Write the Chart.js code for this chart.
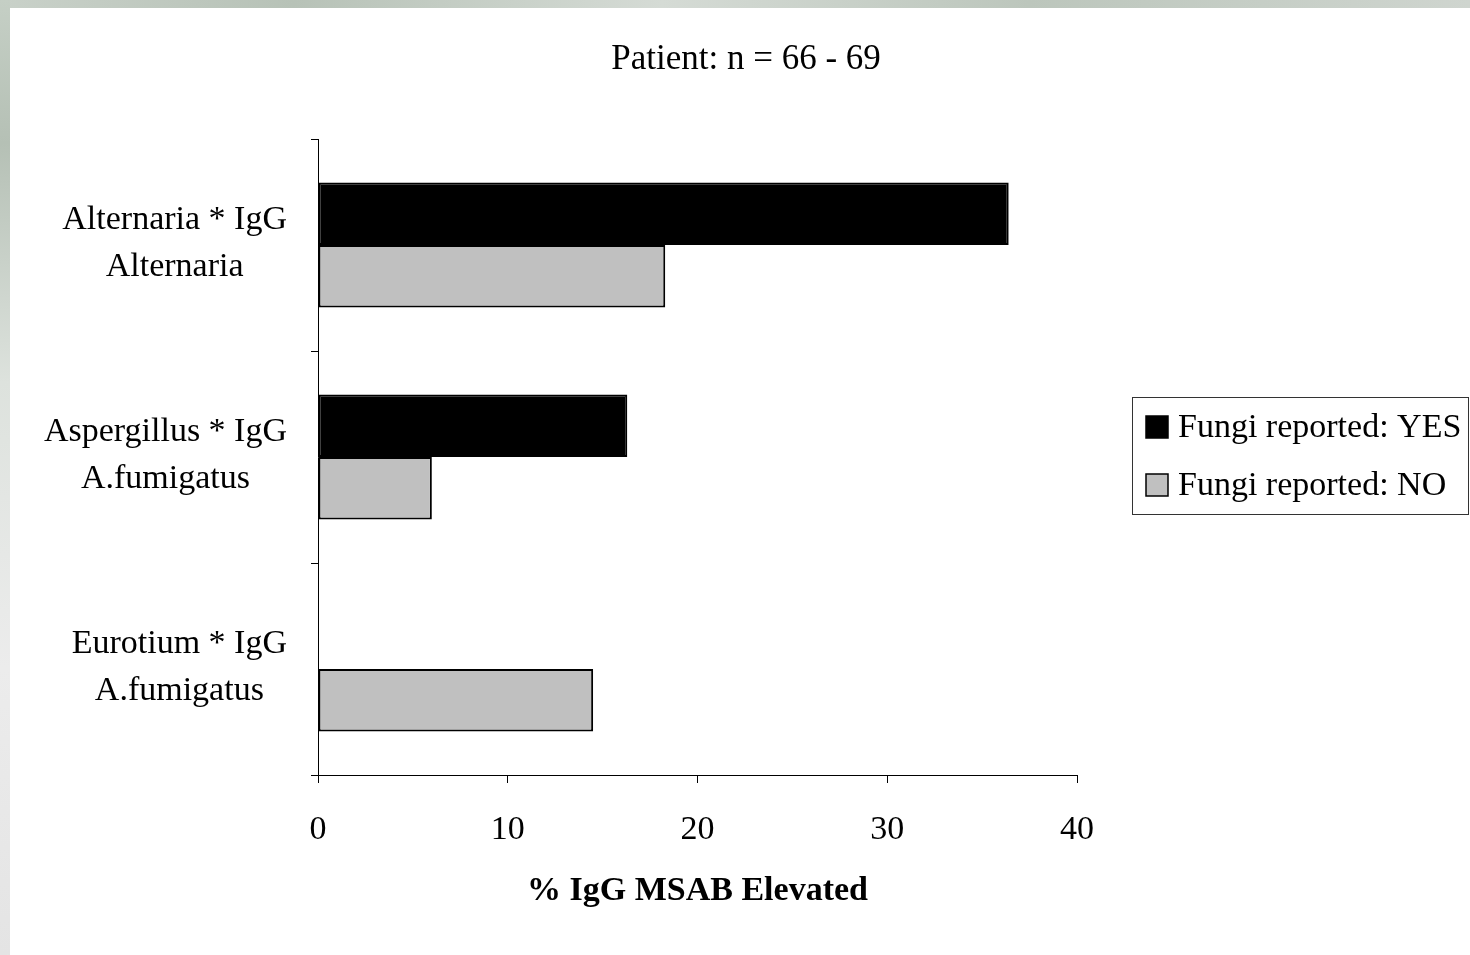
<!DOCTYPE html>
<html>
<head>
<meta charset="utf-8">
<script src="https://cdn.jsdelivr.net/npm/chart.js@4.4.1/dist/chart.umd.min.js"></script>
<style>
  html, body { margin: 0; padding: 0; }
  body { width: 1470px; height: 955px; position: relative; overflow: hidden; background: #fff; }
  .edge-top { position: absolute; left: 0; top: 0; width: 1470px; height: 8px;
    background: linear-gradient(90deg, #c9d1c9, #b7c2b7 20%, #d5dbd5 45%, #bcc6bc 70%, #cfd5cf 100%); }
  .edge-left { position: absolute; left: 0; top: 0; width: 10px; height: 955px;
    background: linear-gradient(180deg, #c5cfc5, #b5c0b5 15%, #dde2dd 40%, #ececec 70%, #e4e4e4 100%); }
  #wrap { position: absolute; left: 0; top: 0; width: 1470px; height: 955px; }
</style>
</head>
<body>
<div class="edge-top"></div>
<div class="edge-left"></div>
<div id="wrap"><canvas id="chart" width="1470" height="955"></canvas></div>
<script>
const categories = [
  ["Alternaria * IgG", "Alternaria"],
  ["Aspergillus * IgG", "A.fumigatus"],
  ["Eurotium * IgG", "A.fumigatus"]
];
const seriesNames = ["Fungi reported: YES", "Fungi reported: NO"];
const yesValues = [36.4, 16.3, 0];
const noValues = [18.3, 6.0, 14.5];
const xTicks = [0, 10, 20, 30, 40];

const SERIF = '"Liberation Serif", "Times New Roman", serif';
Chart.defaults.color = '#000';
Chart.defaults.font.family = SERIF;

// category labels: each block centred on itself, right edge next to the axis
const catLabels = {
  id: 'catLabels',
  afterDraw(chart) {
    const ys = chart.scales.y;
    const ctx = chart.ctx;
    ctx.save();
    ctx.font = '34px ' + SERIF;
    ctx.fillStyle = '#000';
    ctx.textAlign = 'center';
    ctx.textBaseline = 'middle';
    chart.data.labels.forEach((lines, i) => {
      const w = Math.max(...lines.map(t => ctx.measureText(t).width));
      const cx = ys.right - 31 - w / 2;
      const cy = ys.getPixelForValue(i) - 1.5;
      lines.forEach((t, j) => {
        ctx.fillText(t, cx, cy + (j - (lines.length - 1) / 2) * 47);
      });
    });
    ctx.restore();
  }
};

// boxed legend on the right
const boxLegend = {
  id: 'boxLegend',
  afterDraw(chart) {
    const ctx = chart.ctx;
    ctx.save();
    ctx.strokeStyle = '#333';
    ctx.lineWidth = 1;
    ctx.strokeRect(1132.5, 397.5, 336, 117);
    chart.data.datasets.forEach((ds, i) => {
      const cy = 427 + i * 58;
      ctx.fillStyle = ds.backgroundColor;
      ctx.fillRect(1146, cy - 11, 22, 22);
      ctx.strokeStyle = '#000';
      ctx.lineWidth = 1.5;
      ctx.strokeRect(1146, cy - 11, 22, 22);
      ctx.fillStyle = '#000';
      ctx.font = '34px ' + SERIF;
      ctx.textAlign = 'left';
      ctx.textBaseline = 'middle';
      ctx.fillText(ds.label, 1178, cy + 1);
    });
    ctx.restore();
  }
};

new Chart(document.getElementById('chart'), {
  type: 'bar',
  data: {
    labels: categories,
    datasets: [
      {
        label: seriesNames[0],
        data: yesValues,
        backgroundColor: '#000000',
        borderColor: '#000000',
        borderWidth: c => (c.raw ? 2 : 0),
        borderSkipped: false
      },
      {
        label: seriesNames[1],
        data: noValues,
        backgroundColor: '#c0c0c0',
        borderColor: '#000000',
        borderWidth: c => (c.raw ? 2 : 0),
        borderSkipped: false
      }
    ]
  },
  options: {
    indexAxis: 'y',
    responsive: false,
    animation: false,
    layout: { padding: { left: 22, right: 0, top: 0, bottom: 0 } },
    datasets: { bar: { categoryPercentage: 0.59, barPercentage: 1.0 } },
    plugins: {
      legend: { display: false },
      tooltip: { enabled: false },
      title: {
        display: true,
        text: 'Patient: n = 66 - 69',
        color: '#000',
        font: { size: 35, weight: 'normal', family: SERIF },
        padding: { top: 38.5, bottom: 58.5 }
      }
    },
    scales: {
      x: {
        min: 0,
        max: 40,
        afterBuildTicks: s => { s.ticks = xTicks.map(v => ({ value: v })); },
        afterFit: s => { s.height = 180; },
        border: { display: true, color: '#000', width: 1 },
        grid: { display: true, drawOnChartArea: false, drawTicks: true, tickLength: 8, color: '#000' },
        ticks: { font: { size: 34, family: SERIF }, color: '#000', padding: 27, maxRotation: 0 },
        title: {
          display: true,
          text: '% IgG MSAB Elevated',
          color: '#000',
          font: { size: 34, weight: 'bold', family: SERIF },
          padding: { top: 4, bottom: 43 }
        }
      },
      y: {
        afterFit: s => { s.width = 296; },
        border: { display: true, color: '#000', width: 1 },
        grid: { display: true, drawOnChartArea: false, drawTicks: true, tickLength: 7, color: '#000', offset: true },
        ticks: { display: false }
      },
      pad: {
        type: 'linear',
        axis: 'y',
        position: 'right',
        display: true,
        afterFit: s => { s.width = 393; },
        border: { display: false },
        grid: { display: false },
        ticks: { display: false }
      }
    }
  },
  plugins: [catLabels, boxLegend]
});
</script>
</body>
</html>
